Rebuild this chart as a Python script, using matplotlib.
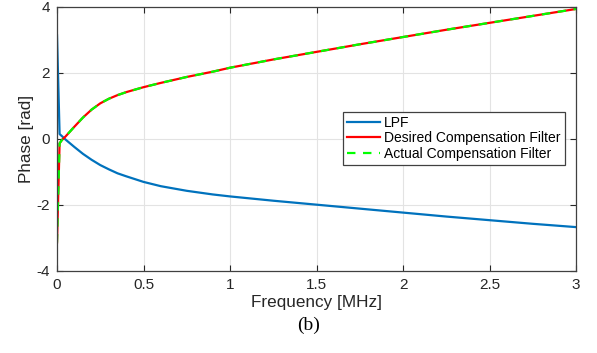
import matplotlib
matplotlib.use("Agg")
import matplotlib.pyplot as plt

plt.rcParams['font.family'] = ['Liberation Sans', 'DejaVu Sans']
plt.rcParams['axes.unicode_minus'] = False

# Data (frequency in MHz, phase in rad)
freq_lpf = [0, 0.015, 0.03, 0.05, 0.1, 0.15, 0.2, 0.25, 0.3, 0.35, 0.4, 0.5, 0.6,
            0.75, 0.9, 1.0, 1.25, 1.5, 1.75, 2.0, 2.25, 2.5, 2.75, 3.0]
phase_lpf = [3.14, 0.15, 0.08, -0.02, -0.24, -0.45, -0.63, -0.79, -0.92, -1.04,
             -1.13, -1.30, -1.43, -1.57, -1.68, -1.74, -1.87, -1.99, -2.11, -2.23,
             -2.35, -2.46, -2.57, -2.67]

freq_comp = [0, 0.015, 0.03, 0.05, 0.1, 0.15, 0.2, 0.25, 0.3, 0.35, 0.4, 0.5, 0.6,
             0.75, 0.9, 1.0, 1.25, 1.5, 1.75, 2.0, 2.25, 2.5, 2.75, 3.0]
phase_desired = [-3.14, -0.13, -0.02, 0.08, 0.37, 0.65, 0.89, 1.08, 1.22, 1.33,
                 1.42, 1.57, 1.70, 1.88, 2.04, 2.16, 2.41, 2.64, 2.87, 3.09,
                 3.31, 3.52, 3.73, 3.94]
phase_actual = phase_desired

labels = ["LPF", "Desired Compensation Filter", "Actual Compensation Filter"]
xticks = [0, 0.5, 1, 1.5, 2, 2.5, 3]
xticklabels = ["0", "0.5", "1", "1.5", "2", "2.5", "3"]
yticks = [-4, -2, 0, 2, 4]

fig = plt.figure(figsize=(5.97, 3.53), dpi=100)
ax = fig.add_axes([57/597, 1-271/353, (576-57)/597, (271-7)/353])

ax.plot(freq_lpf, phase_lpf, color='#0072BD', lw=1.6, label=labels[0])
ax.plot(freq_comp, phase_desired, color='#FF0000', lw=1.6, label=labels[1])
ax.plot(freq_comp, phase_actual, color='#00FF00', lw=1.6,
        linestyle=(0, (3.8, 3.4)), label=labels[2])

ax.set_xlim(0, 3)
ax.set_ylim(-4, 4)
ax.set_xticks(xticks)
ax.set_xticklabels(xticklabels)
ax.set_yticks(yticks)
ax.grid(True, color='#e3e3e3', lw=0.8)
ax.set_axisbelow(True)
ax.tick_params(direction='in', length=4, width=0.8, top=True, right=True,
               labelsize=11, colors='#262626', pad=5)
for s in ax.spines.values():
    s.set_color('#404040')
    s.set_linewidth(0.9)

ax.set_xlabel("Frequency [MHz]", fontsize=12.3, color='#262626', labelpad=2)
ax.set_ylabel("Phase [rad]", fontsize=12.3, color='#262626', labelpad=1.5)

leg = ax.legend(loc='upper left', bbox_to_anchor=((342.7-57)/519, (271-111.7)/264),
                borderaxespad=0, fontsize=10, fancybox=False, framealpha=1,
                edgecolor='#404040', handlelength=2.4, handletextpad=0.3,
                borderpad=0.3, labelspacing=0.1)
leg.get_frame().set_linewidth(0.9)

fig.text(309/597, 1-325/353, "(b)", ha='center', va='center',
         family=['Liberation Serif', 'DejaVu Serif'], fontsize=14)

fig.savefig("out.png", dpi=100)
